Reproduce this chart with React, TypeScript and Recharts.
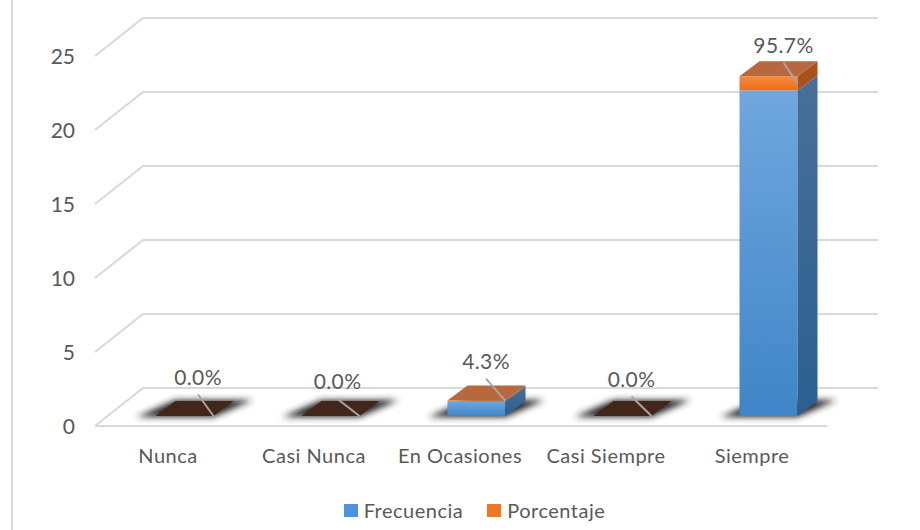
import React from "react";
import { BarChart, Bar, XAxis, YAxis, CartesianGrid, Legend, LabelList } from "recharts";

// Survey answers: count per category, and the share of responses stacked on top.
const categories = ["Nunca", "Casi Nunca", "En Ocasiones", "Casi Siempre", "Siempre"];
const frecuencia = [0, 0, 1, 0, 22];
const porcentaje = [0, 0, 0.043, 0, 0.957];
const yTicks = [0, 5, 10, 15, 20, 25];

const rows = categories.map((name, i) => ({
  name,
  Frecuencia: frecuencia[i],
  Porcentaje: porcentaje[i],
}));

const FONT = "Lato, 'Noto Sans', sans-serif";
const TEXT = "#595959";
const GRID = "#d9d9d9";

// Pseudo-3D projection used by the floor, the wall and the boxes.
const WALL_DX = 48;
const WALL_DY = 38;
const WALL_WIDTH = 735;
const BOX_SHIFT_X = 16.5;
const BOX_SHIFT_Y = 10;
const BOX_DX = 20;
const BOX_DY = 15;
const PLOT_BOTTOM = 426;
const FLOOR_WIDTH = 732;

// Where each percentage label sits relative to the centre and top of its box.
const labelOffsets = [
  { dx: 13.5, dy: -40 },
  { dx: 7, dy: -35.5 },
  { dx: 9.5, dy: -40.5 },
  { dx: 9, dy: -38 },
  { dx: 15, dy: -32 },
];

const pts = (list: number[][]) => list.map((p) => p.join(",")).join(" ");

function GridLine(props: any) {
  const { x1, y1, index } = props;
  const isFloor = Math.abs(y1 - PLOT_BOTTOM) < 1;
  const stroke = { stroke: GRID, strokeWidth: 2, fill: "none" };
  return (
    <g key={`grid-${index}`}>
      <polyline
        points={pts([
          [x1, y1],
          [x1 + WALL_DX, y1 - WALL_DY],
          [x1 + WALL_DX + WALL_WIDTH, y1 - WALL_DY],
        ])}
        {...stroke}
      />
      {isFloor && <line x1={x1} y1={y1} x2={x1 + FLOOR_WIDTH} y2={y1} {...stroke} />}
    </g>
  );
}

function LowerBox(props: any) {
  const { x, y, width, height } = props;
  const left = x + BOX_SHIFT_X;
  const right = left + width;
  const top = y - BOX_SHIFT_Y;
  const bottom = top + height;
  return (
    <g>
      <polygon
        points={pts([
          [left - 19, bottom + 1],
          [right, bottom + 1],
          [right + BOX_DX + 19, bottom - BOX_DY - 1],
          [left + BOX_DX, bottom - BOX_DY - 1],
        ])}
        fill="#262626"
        filter="url(#floorShadow)"
      />
      {height > 0 && (
        <>
          <rect x={left} y={top} width={width} height={height} fill="url(#blueFront)" />
          <polygon
            points={pts([
              [right, top],
              [right + BOX_DX, top - BOX_DY],
              [right + BOX_DX, bottom - BOX_DY],
              [right, bottom],
            ])}
            fill="url(#blueSide)"
          />
        </>
      )}
    </g>
  );
}

function UpperBox(props: any) {
  const { x, y, width, height, payload } = props;
  const left = x + BOX_SHIFT_X;
  const right = left + width;
  const top = y - BOX_SHIFT_Y;
  const bottom = top + height;
  const hasVolume = payload.Frecuencia + payload.Porcentaje > 0;
  return (
    <g>
      <rect x={left} y={top} width={width} height={height} fill="url(#orangeFront)" />
      <polygon
        points={pts([
          [right, top],
          [right + BOX_DX, top - BOX_DY],
          [right + BOX_DX, bottom - BOX_DY],
          [right, bottom],
        ])}
        fill="#a9531c"
      />
      <polygon
        points={pts([
          [left, top],
          [right, top],
          [right + BOX_DX, top - BOX_DY],
          [left + BOX_DX, top - BOX_DY],
        ])}
        fill={hasVolume ? "#b7683c" : "#43261a"}
      />
    </g>
  );
}

function PercentLabel(props: any) {
  const { index, value, viewBox } = props;
  const x = props.x ?? viewBox?.x;
  const y = props.y ?? viewBox?.y;
  const width = props.width ?? viewBox?.width;
  const height = props.height ?? viewBox?.height ?? 0;
  const left = x + BOX_SHIFT_X;
  const top = y - BOX_SHIFT_Y;
  const cx = left + width / 2 + labelOffsets[index].dx;
  const cy = top + labelOffsets[index].dy;
  return (
    <g>
      <line
        x1={cx}
        y1={cy + 18.5}
        x2={left + width}
        y2={top + height / 2}
        stroke="#a6a6a6"
        strokeWidth={2}
      />
      <text
        x={cx}
        y={cy}
        textAnchor="middle"
        dominantBaseline="central"
        fontFamily={FONT}
        fontSize={21}
        letterSpacing={0.4}
        fill={TEXT}
      >
        {`${(value * 100).toFixed(1)}%`}
      </text>
    </g>
  );
}

function LegendRow({ payload }: any) {
  return (
    <div
      style={{
        display: "flex",
        justifyContent: "center",
        alignItems: "center",
        height: 22,
        marginTop: -1,
        paddingLeft: 124,
        gap: 24,
        fontFamily: FONT,
        fontSize: 20,
        letterSpacing: 0.5,
        color: TEXT,
      }}
    >
      {(payload ?? []).map((item: any) => (
        <div key={item.value} style={{ display: "flex", alignItems: "center", gap: 6 }}>
          <span style={{ width: 14, height: 13, background: item.color, display: "block" }} />
          <span>{item.value}</span>
        </div>
      ))}
    </div>
  );
}

export default function App() {
  return (
    <div style={{ position: "absolute", left: 0, top: 0, width: 920, height: 530, background: "#fff" }}>
      <div style={{ position: "absolute", left: 11, top: 0, width: 2, height: 530, background: GRID }} />
      <BarChart
        width={920}
        height={530}
        data={rows}
        barSize={58}
        margin={{ top: 56, right: 95, bottom: 0, left: 0 }}
        style={{ position: "absolute", left: 0, top: 0 }}
      >
        <defs>
          <linearGradient id="blueFront" x1="0" y1="0" x2="0" y2="1">
            <stop offset="0" stopColor="#70a7de" />
            <stop offset="1" stopColor="#3f85c7" />
          </linearGradient>
          <linearGradient id="blueSide" x1="0" y1="0" x2="0" y2="1">
            <stop offset="0" stopColor="#486f97" />
            <stop offset="1" stopColor="#2b5f90" />
          </linearGradient>
          <linearGradient id="orangeFront" x1="0" y1="0" x2="0" y2="1">
            <stop offset="0" stopColor="#f58b40" />
            <stop offset="1" stopColor="#ee6d17" />
          </linearGradient>
          <filter id="floorShadow" x="-30%" y="-100%" width="160%" height="300%">
            <feGaussianBlur stdDeviation="3.2" />
          </filter>
        </defs>
        <CartesianGrid vertical={false} horizontal={GridLine as any} />
        <XAxis
          dataKey="name"
          interval={0}
          height={74}
          axisLine={false}
          tickLine={false}
          tickMargin={17}
          tick={{ fontFamily: FONT, fontSize: 20, letterSpacing: 0.5, fill: TEXT }}
        />
        <YAxis
          domain={[0, 25]}
          ticks={yTicks}
          width={95}
          axisLine={false}
          tickLine={false}
          tickMargin={14}
          tick={{ fontFamily: FONT, fontSize: 21, dy: 1, fill: TEXT }}
        />
        <Legend verticalAlign="bottom" height={30} content={LegendRow as any} />
        <Bar
          dataKey="Frecuencia"
          stackId="respuestas"
          fill="#4f94d8"
          shape={LowerBox as any}
          isAnimationActive={false}
        />
        <Bar
          dataKey="Porcentaje"
          stackId="respuestas"
          fill="#f07525"
          shape={UpperBox as any}
          isAnimationActive={false}
        >
          <LabelList dataKey="Porcentaje" content={PercentLabel as any} />
        </Bar>
      </BarChart>
    </div>
  );
}
